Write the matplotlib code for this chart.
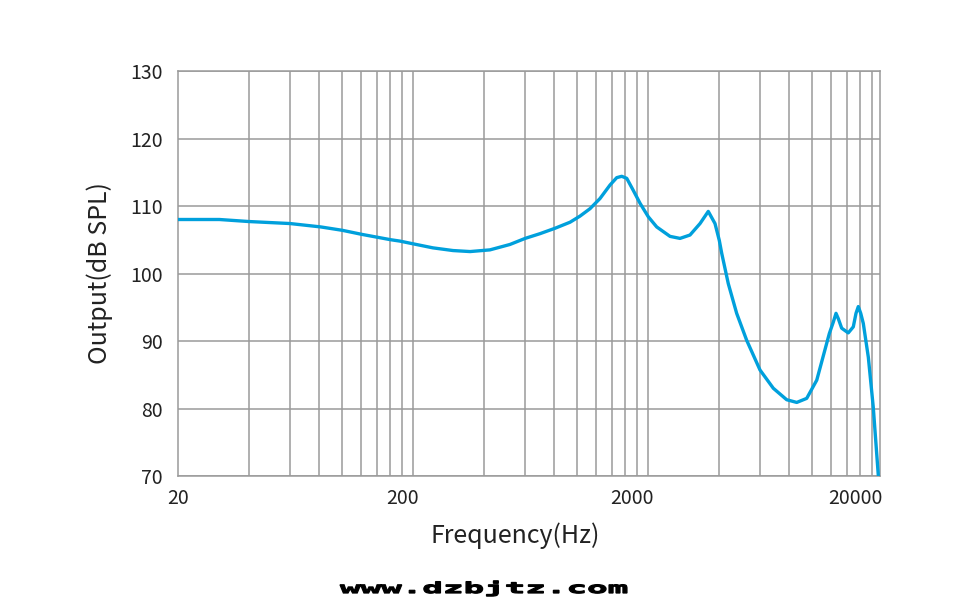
import matplotlib

matplotlib.use("Agg")
import matplotlib.pyplot as plt
from matplotlib.font_manager import FontProperties
from matplotlib.patches import PathPatch
from matplotlib.textpath import TextPath
from matplotlib.transforms import Affine2D

# frequency response
freq_hz = [20, 30, 40, 60, 81, 100, 121, 161, 176, 200, 243, 296, 350, 425, 517,
           600, 694, 804, 932, 1027, 1133, 1249, 1378, 1472, 1546, 1624, 1732, 1850,
           2006, 2178, 2482, 2737, 3018, 3330, 3610, 3856, 4022, 4118, 4392, 4768,
           5260, 5994, 6826, 7784, 8590, 9470, 10450, 11820, 12290, 12620, 12910,
           13340, 14230, 14950, 15350, 15700, 16080, 16490, 17320, 18180, 19100]
spl_db = [108.0, 108.0, 107.7, 107.4, 106.9, 106.4, 105.8, 105.0, 104.8, 104.4, 103.8,
          103.4, 103.25, 103.5, 104.3, 105.2, 105.9, 106.7, 107.6, 108.5, 109.6, 111.1,
          113.1, 114.2, 114.4, 114.1, 112.3, 110.4, 108.4, 106.9, 105.5, 105.2, 105.7,
          107.4, 109.2, 107.4, 104.9, 103.0, 98.5, 94.1, 90.1, 85.7, 83.0, 81.3, 80.9,
          81.5, 84.2, 91.1, 92.8, 94.1, 93.3, 91.9, 91.2, 92.1, 94.1, 95.1, 94.1, 92.6,
          87.6, 80.2, 70.1]

# the source chart's tick labels sit a little off its own log grid
xtick_pos = [20, 181, 1710, 15200]
xtick_labels = ["20", "200", "2000", "20000"]
yticks = [70, 80, 90, 100, 110, 120, 130]

line_color = "#00a0dc"
grid_color = "#9a9a9a"
text_color = "#222222"

plt.rcParams["font.family"] = ["Noto Sans CJK SC", "DejaVu Sans"]

fig = plt.figure(figsize=(9.76, 6.13), dpi=100)
ax = fig.add_axes([178 / 976, 137 / 613, 702 / 976, 405 / 613])

ax.plot(freq_hz, spl_db, color=line_color, lw=2.4, solid_capstyle="round",
        solid_joinstyle="round", zorder=3)

ax.set_xscale("log")
ax.set_xlim(20, 20 * 10 ** (702 / 235))
ax.set_ylim(70, 130)

grid_f = [20 * m * 10 ** n for n in range(3) for m in range(1, 10)]
ax.set_xticks(grid_f, minor=True)
ax.set_xticks(xtick_pos, xtick_labels)
ax.set_yticks(yticks)
ax.tick_params(which="both", length=0, labelsize=14, colors=text_color)
ax.tick_params(axis="x", pad=9)
ax.tick_params(axis="y", pad=11)
ax.xaxis.set_minor_formatter(plt.NullFormatter())

ax.grid(which="minor", axis="x", color=grid_color, lw=1.1)
ax.grid(which="major", axis="y", color=grid_color, lw=1.1)
ax.grid(which="major", axis="x", visible=False)
for s in ax.spines.values():
    s.set_color(grid_color)
    s.set_linewidth(1.1)

ax.set_xlabel("Frequency(Hz)", fontsize=18, color=text_color, labelpad=8)
ax.xaxis.set_label_coords(0.48, -0.115)
ax.set_ylabel("Output(dB SPL)", fontsize=18, color=text_color, labelpad=12)

# watermark in a wide bold monospace look
tp = TextPath((0, 0), "www.dzbjtz.com", size=12,
              prop=FontProperties(family="DejaVu Sans Mono", weight="bold"))
tr = Affine2D().scale(2.85, 1.25).translate(340, 20)
fig.patches.append(PathPatch(tp, transform=tr, facecolor="black", edgecolor="black", lw=0.9))

fig.savefig("out.png", dpi=100)
